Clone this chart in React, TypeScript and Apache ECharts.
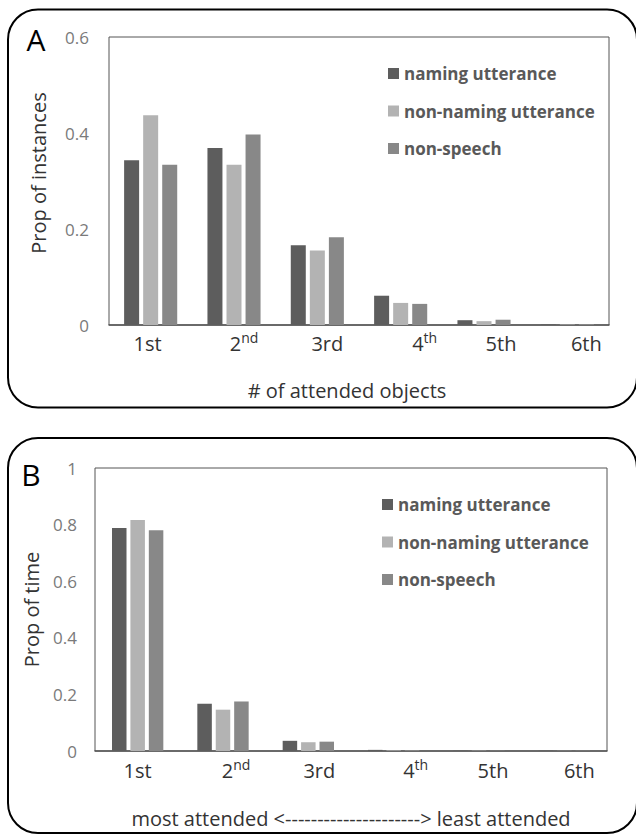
import React, { useEffect, useRef } from "react";
import * as echarts from "echarts";

const CATEGORIES = ["1st", "2nd", "3rd", "4th", "5th", "6th"];
const SERIES_NAMES = ["naming utterance", "non-naming utterance", "non-speech"];

// Panel A: proportion of instances by number of attended objects
const A_NAMING = [0.343, 0.369, 0.166, 0.061, 0.010, 0.001];
const A_NON_NAMING = [0.437, 0.334, 0.155, 0.046, 0.008, 0.001];
const A_NON_SPEECH = [0.334, 0.397, 0.183, 0.044, 0.011, 0.002];

// Panel B: proportion of time by attention rank
const B_NAMING = [0.788, 0.167, 0.036, 0.004, 0.001, 0.001];
const B_NON_NAMING = [0.816, 0.146, 0.031, 0.002, 0.001, 0.0005];
const B_NON_SPEECH = [0.780, 0.175, 0.033, 0.003, 0.001, 0.001];

const A_Y_TICKS = { min: 0, max: 0.6, interval: 0.2 };
const B_Y_TICKS = { min: 0, max: 1, interval: 0.2 };

// style constants (horizontal label nudges, px)
const A_LABEL_SHIFT = [-3, 10, 10, 24, 17, 19];
const B_LABEL_SHIFT = [0, 13, 11, 22, 14, 15];

const COLORS = ["#5d5d5d", "#b3b3b3", "#888888"];
const FONT = "Open Sans";

function catData(shifts: number[]) {
  return CATEGORIES.map((c, i) => {
    const s = shifts[i];
    const pad = s >= 0 ? [0, 0, 0, s * 2] : [0, -s * 2, 0, 0];
    return { value: c, textStyle: { padding: pad } };
  });
}

const labelFormatter = (v: string) => {
  if (v === "2nd") return "{m|2}{s|nd}";
  if (v === "4th") return "{m|4}{s|th}";
  return "{m|" + v + "}";
};

const xLabelRich = {
  m: { fontSize: 20, fontFamily: FONT, color: "#333333", lineHeight: 26 },
  s: { fontSize: 14, fontFamily: FONT, color: "#333333", lineHeight: 18, verticalAlign: "top" },
};

export default function App() {
  const ref = useRef<HTMLDivElement>(null);

  useEffect(() => {
    if (!ref.current) return;
    const chart = echarts.init(ref.current, undefined, { renderer: "svg" });

    const grids = [
      { left: 109, top: 37, width: 500, height: 288 },
      { left: 95, top: 468, width: 512, height: 283 },
    ];

    const mkX = (gi: number, shifts: number[], name: string, nameGap: number, namePad: number[], margin: number) => ({
      type: "category",
      gridIndex: gi,
      data: catData(shifts),
      axisTick: { show: false },
      axisLine: { show: true, lineStyle: { color: "#555555", width: 1.5 } },
      axisLabel: { interval: 0, margin, formatter: labelFormatter, rich: xLabelRich, color: "#333333" },
      name,
      nameLocation: "middle",
      nameGap,
      nameTextStyle: { fontSize: 20, fontFamily: FONT, color: "#333333", padding: namePad },
    });

    const mkY = (gi: number, ticks: any, name: string, nameGap: number, margin: number, namePad: number[]) => ({
      type: "value",
      gridIndex: gi,
      min: ticks.min,
      max: ticks.max,
      interval: ticks.interval,
      splitLine: { show: false },
      axisLine: { show: false },
      axisTick: { show: false },
      axisLabel: { fontSize: 17, fontFamily: FONT, color: "#7a7a7a", margin },
      name,
      nameLocation: "middle",
      nameGap,
      nameTextStyle: { fontSize: 20, fontFamily: FONT, color: "#333333", padding: namePad },
    });

    const barCommon = { type: "bar", barWidth: 15, barGap: "27%" };

    const aData = [A_NAMING, A_NON_NAMING, A_NON_SPEECH];
    const bData = [B_NAMING, B_NON_NAMING, B_NON_SPEECH];

    const series: any[] = [];
    aData.forEach((d, i) =>
      series.push({ ...barCommon, name: SERIES_NAMES[i], xAxisIndex: 0, yAxisIndex: 0, data: d, itemStyle: { color: COLORS[i] } })
    );
    bData.forEach((d, i) =>
      series.push({ ...barCommon, name: SERIES_NAMES[i], xAxisIndex: 1, yAxisIndex: 1, data: d, barWidth: 14.5, itemStyle: { color: COLORS[i] } })
    );

    const legendCommon = {
      orient: "vertical",
      icon: "rect",
      itemWidth: 11,
      itemHeight: 11,
      itemGap: 20.5,
      selectedMode: false,
      data: SERIES_NAMES,
      textStyle: { fontSize: 17, fontWeight: "bold", fontFamily: FONT, color: "#595959" },
    };

    chart.setOption({
      animation: false,
      textStyle: { fontFamily: FONT },
      grid: grids.map((g) => ({ ...g, show: true, borderColor: "#555555", borderWidth: 1, backgroundColor: "transparent" })),
      xAxis: [
        mkX(0, A_LABEL_SHIFT, "# of attended objects", 55, [0, 24, 0, 0], 5),
        mkX(1, B_LABEL_SHIFT, "most attended <---------------------> least attended", 57, [0, 0, 0, 0], 6),
      ],
      yAxis: [
        mkY(0, A_Y_TICKS, "Prop of instances", 61, 20, [0, 0, 0, 16]),
        mkY(1, B_Y_TICKS, "Prop of time", 54, 18, [0, 0, 0, 0]),
      ],
      legend: [
        { ...legendCommon, left: 383, top: 60 },
        { ...legendCommon, left: 377, top: 491 },
      ],
      series,
      graphic: [
        { type: "rect", shape: { x: 8, y: 9.5, width: 629, height: 398, r: 30 }, style: { fill: "none", stroke: "#000", lineWidth: 2 }, silent: true },
        { type: "rect", shape: { x: 8, y: 438, width: 629, height: 395, r: 30 }, style: { fill: "none", stroke: "#000", lineWidth: 2 }, silent: true },
        { type: "text", x: 36, y: 39, style: { text: "A", fontSize: 30, fontFamily: FONT, fill: "#000", align: "center", verticalAlign: "middle" } },
        { type: "text", x: 31, y: 474, style: { text: "B", fontSize: 30, fontFamily: FONT, fill: "#000", align: "center", verticalAlign: "middle" } },
      ],
    });

    return () => chart.dispose();
  }, []);

  return <div ref={ref} style={{ position: "absolute", left: 0, top: 0, width: 636, height: 836 }} />;
}
